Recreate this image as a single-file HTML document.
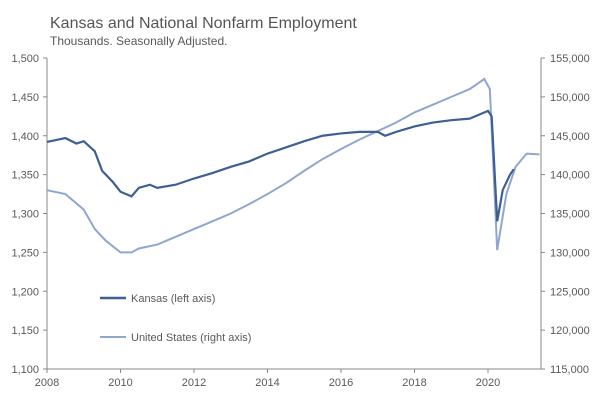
<!DOCTYPE html>
<html><head><meta charset="utf-8"><style>
body{margin:0;background:#fff;font-family:"Liberation Sans",sans-serif}
svg text{font-family:"Liberation Sans",sans-serif;fill:#595959}
</style></head><body>
<svg width="600" height="400">
<text x="50" y="28" font-size="16" style="fill:#555">Kansas and National Nonfarm Employment</text>
<text x="50" y="45" font-size="12">Thousands. Seasonally Adjusted.</text>
<g id="axes"></g>
<g id="lines"></g>
<g>
<line x1="100" y1="298" x2="126" y2="298" stroke="#3e5f94" stroke-width="2.5"/>
<text x="131" y="302" font-size="11">Kansas (left axis)</text>
<line x1="100" y1="337" x2="126" y2="337" stroke="#90a6cf" stroke-width="2"/>
<text x="131" y="341" font-size="11">United States (right axis)</text>
</g>
</svg>
<script>
const ksYears=[2008,2008.5,2008.8,2009,2009.3,2009.5,2009.8,2010,2010.3,2010.5,2010.8,2011,2011.5,2012,2012.5,2013,2013.5,2014,2014.5,2015,2015.5,2016,2016.5,2017,2017.2,2017.5,2018,2018.5,2019,2019.5,2019.8,2020,2020.1,2020.25,2020.4,2020.6,2020.7];
const ksValues=[1392,1397,1390,1393,1380,1355,1340,1328,1322,1333,1337,1333,1337,1345,1352,1360,1367,1377,1385,1393,1400,1403,1405,1405,1400,1405,1412,1417,1420,1422,1428,1432,1425,1290,1330,1350,1357];
const usYears=[2008,2008.5,2009,2009.3,2009.6,2010,2010.3,2010.5,2011,2011.5,2012,2012.5,2013,2013.5,2014,2014.5,2015,2015.5,2016,2016.5,2017,2017.5,2018,2018.5,2019,2019.5,2019.9,2020.05,2020.25,2020.5,2020.75,2021.05,2021.4];
const usValues=[138000,137500,135500,133000,131500,130000,130000,130500,131000,132000,133000,134000,135000,136200,137500,138900,140500,142000,143300,144500,145600,146700,148000,149000,150000,151000,152300,151000,130300,137500,141000,142700,142600];
const leftTicks=[1100,1150,1200,1250,1300,1350,1400,1450,1500];
const rightTicks=[115000,120000,125000,130000,135000,140000,145000,150000,155000];
const xTicks=[2008,2010,2012,2014,2016,2018,2020];
const X0=47,X1=541,Y0=369,Y1=58;
const x=v=>X0+(v-2008)*36.75;
const yl=v=>Y0-(v-1100)/400*(Y0-Y1);
const yr=v=>Y0-(v-115000)/40000*(Y0-Y1);
const NS="http://www.w3.org/2000/svg";
const ax=document.getElementById('axes'),ln=document.getElementById('lines');
function mk(t,a,p){const e=document.createElementNS(NS,t);for(const k in a)e.setAttribute(k,a[k]);p.appendChild(e);return e;}
const la=mk('line',{x1:X0,y1:Y1,x2:X0,y2:Y0,stroke:'#888'},ax);


const ra=mk('line',{x1:X1,y1:Y1,x2:X1,y2:Y0,stroke:'#888'},ax);


const xa=mk('line',{x1:X0,y1:Y0,x2:X1,y2:Y0,stroke:'#888'},ax);


leftTicks.forEach(v=>{mk('line',{x1:X0-4,y1:yl(v),x2:X0,y2:yl(v),stroke:'#888'},ax);
const t=mk('text',{x:X0-8,y:yl(v)+4,'text-anchor':'end','font-size':11},ax);t.textContent=v.toLocaleString('en-US');

});
rightTicks.forEach(v=>{mk('line',{x1:X1,y1:yr(v),x2:X1+4,y2:yr(v),stroke:'#888'},ax);
const t=mk('text',{x:X1+9,y:yr(v)+4,'font-size':11},ax);t.textContent=v.toLocaleString('en-US');

});
xTicks.forEach(v=>{mk('line',{x1:x(v),y1:Y0,x2:x(v),y2:Y0+4,stroke:'#888'},ax);
const t=mk('text',{x:x(v),y:Y0+17,'text-anchor':'middle','font-size':11},ax);t.textContent=v;

});
const us=mk('polyline',{points:usYears.map((d,i)=>x(d)+','+yr(usValues[i])).join(' '),fill:'none',stroke:'#90a6cf','stroke-width':2},ln);


const ks=mk('polyline',{points:ksYears.map((d,i)=>x(d)+','+yl(ksValues[i])).join(' '),fill:'none',stroke:'#3e5f94','stroke-width':2.2},ln);


</script>
</body></html>
